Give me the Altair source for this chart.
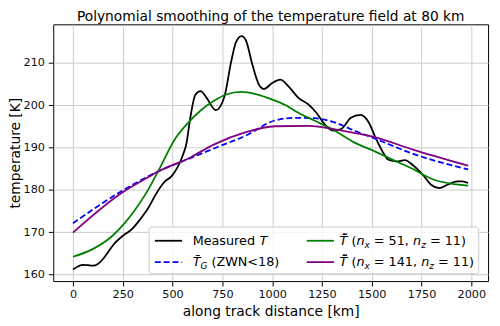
import altair as alt
import pandas as pd

# ---------------- data ----------------
km_meas = [0, 25, 50, 75, 100, 125, 150, 175, 206, 255, 296, 337, 378, 419, 460,
           493, 526, 551, 570, 589, 614, 641, 671, 717, 761, 794, 819, 847, 868,
           901, 934, 959, 1000, 1041, 1082, 1132, 1181, 1222, 1263, 1304, 1346,
           1395, 1444, 1485, 1518, 1551, 1584, 1625, 1666, 1707, 1757, 1798,
           1839, 1880, 1929, 1954, 1984]
T_meas = [161.2, 161.9, 162.3, 162.2, 162.1, 162.5, 163.6, 165.2, 167.2, 169.3,
          170.7, 173.0, 175.7, 179.2, 181.9, 183.1, 185.4, 188.1, 191.0, 197.0,
          202.4, 203.3, 201.7, 198.8, 202.1, 210.2, 214.9, 216.3, 215.3, 209.5,
          204.8, 203.8, 205.2, 206.0, 204.4, 201.7, 200.2, 198.2, 195.5, 194.0,
          194.3, 197.0, 197.7, 195.9, 192.4, 189.3, 187.1, 186.7, 187.0, 185.8,
          183.5, 181.2, 180.4, 181.2, 182.0, 182.0, 181.6]

km_g = [0, 255, 444, 592, 704, 868, 1016, 1115, 1214, 1313, 1411, 1510, 1707, 1984]
T_g = [172.1, 180.0, 184.7, 187.5, 189.7, 192.8, 196.4, 197.0, 196.9, 195.9,
       194.0, 192.2, 188.5, 184.8]

km_51 = [0, 99, 197, 255, 312, 375, 441, 507, 572, 638, 704, 770, 844, 918,
         1000, 1066, 1115, 1214, 1313, 1411, 1510, 1609, 1707, 1806, 1905, 1984]
T_51 = [164.2, 166.0, 169.1, 171.9, 175.3, 179.8, 185.6, 191.6, 195.5, 198.6,
        200.9, 202.5, 203.1, 202.6, 201.3, 200.0, 198.6, 196.3, 194.0, 191.2,
        189.2, 187.0, 184.9, 182.5, 181.4, 181.0]

km_141 = [0, 255, 375, 428, 592, 704, 868, 1016, 1181, 1346, 1510, 1707, 1984]
T_141 = [169.9, 179.6, 182.9, 184.3, 187.7, 190.6, 193.6, 195.0, 195.1, 194.0,
         192.5, 189.5, 185.7]

x_ticks = [0, 250, 500, 750, 1000, 1250, 1500, 1750, 2000]
y_ticks = [160, 170, 180, 190, 200, 210]

series_colors = ["#000000", "#0000ff", "#008000", "#800080"]
title_text = "Polynomial smoothing of the temperature field at 80 km"

# ---------------- scales / axes ----------------
W, H = 442, 261
xs = alt.Scale(domain=[-99, 2084], nice=False, zero=False)
ys = alt.Scale(domain=[158.45, 219.06], nice=False, zero=False)

xaxis = alt.Axis(values=x_ticks, title="along track distance [km]", format="d",
                 titleX=W / 2, titleY=35, titleBaseline="alphabetic", titleAlign="center")
yaxis = alt.Axis(values=y_ticks, title="temperature [K]", format="d",
                 titleX=-34, titleY=H / 2, titleAngle=270, titleBaseline="alphabetic",
                 titleAlign="center")


def line_layer(km, T, color, dash=None):
    df = pd.DataFrame({"km": km, "T": T})
    props = dict(color=color, strokeWidth=1.8, interpolate="monotone")
    if dash:
        props["strokeDash"] = dash
    return alt.Chart(df).mark_line(**props).encode(
        x=alt.X("km:Q", scale=xs, axis=xaxis),
        y=alt.Y("T:Q", scale=ys, axis=yaxis),
    )


l_meas = line_layer(km_meas, T_meas, series_colors[0])
l_g = line_layer(km_g, T_g, series_colors[1], dash=[6, 3])
l_51 = line_layer(km_51, T_51, series_colors[2])
l_141 = line_layer(km_141, T_141, series_colors[3])

# ---------------- title as a text mark ----------------
title_layer = alt.Chart(pd.DataFrame({"t": [title_text]})).mark_text(
    align="center", baseline="alphabetic", font="DejaVu Sans", fontSize=14,
    color="#000000",
).encode(x=alt.value(W / 2), y=alt.value(-3), text="t:N")

# ---------------- hand-built legend (mathtext-like labels) ----------------
box = pd.DataFrame({"x": [97.5], "x2": [432.5], "y": [206], "y2": [253.5]})
legend_box = alt.Chart(box).mark_rect(
    fill="white", fillOpacity=0.8, stroke="#cccccc", strokeWidth=1, cornerRadius=3
).encode(
    x=alt.X("x:Q", scale=None), x2="x2:Q",
    y=alt.Y("y:Q", scale=None), y2="y2:Q",
)

row_y = [220.0, 241.7]
col_line = [(103.3, 131.0), (257.7, 285.3)]
col_text = [141.7, 291.0]

leg_lines = pd.DataFrame({
    "x": [col_line[0][0], col_line[0][0], col_line[1][0], col_line[1][0]],
    "x2": [col_line[0][1], col_line[0][1], col_line[1][1], col_line[1][1]],
    "y": [row_y[0], row_y[1], row_y[0], row_y[1]],
    "c": series_colors,
    "dash": [0, 1, 0, 0],
})


def rule_layer(df, dash):
    props = dict(strokeWidth=1.8)
    if dash:
        props["strokeDash"] = [6, 3]
    return alt.Chart(df).mark_rule(**props).encode(
        x=alt.X("x:Q", scale=None), x2="x2:Q",
        y=alt.Y("y:Q", scale=None),
        color=alt.Color("c:N", scale=None),
    )


leg_solid = rule_layer(leg_lines[leg_lines.dash == 0], False)
leg_dash = rule_layer(leg_lines[leg_lines.dash == 1], True)

# DejaVu Sans advance widths (em)
adv = {" ": .318, "(": .390, ")": .390, ",": .318, "=": .838, "<": .838,
       "0": .636, "1": .636, "4": .636, "5": .636, "8": .636,
       "M": .863, "e": .615, "a": .613, "s": .521, "u": .634, "r": .411,
       "d": .635, "T": .611, "G": .776, "Z": .686, "W": .989, "N": .748,
       "n": .634, "x": .592, "z": .525}


def seg_width(s, size):
    return sum(adv.get(ch, 0.0) for ch in s) * size


FS, SUB = 13, 9.1
labels = [
    (0, 0, [("Measured ", 0, FS, 0), ("T", 1, FS, 0)]),
    (0, 1, [("T\u0304", 1, FS, 0), ("G", 1, SUB, 3), (" (ZWN<18)", 0, FS, 0)]),
    (1, 0, [("T\u0304\u0303", 1, FS, 0), (" (", 0, FS, 0), ("n", 1, FS, 0), ("x", 1, SUB, 3),
            (" = 51, ", 0, FS, 0), ("n", 1, FS, 0), ("z", 1, SUB, 3), (" = 11)", 0, FS, 0)]),
    (1, 1, [("T\u0304\u0303", 1, FS, 0), (" (", 0, FS, 0), ("n", 1, FS, 0), ("x", 1, SUB, 3),
            (" = 141, ", 0, FS, 0), ("n", 1, FS, 0), ("z", 1, SUB, 3), (" = 11)", 0, FS, 0)]),
]
rows = []
for col, row, segs in labels:
    cx = col_text[col]
    for text, ital, size, dy in segs:
        lead = len(text) - len(text.lstrip(" "))
        shown = text.strip(" ")
        rows.append({"t": shown, "x": cx + lead * adv[" "] * size,
                     "y": row_y[row] + 4.3 + dy, "s": size, "i": ital})
        cx += seg_width(text, size)
seg_df = pd.DataFrame(rows)


def text_layer(df, italic):
    props = dict(align="left", baseline="alphabetic", font="DejaVu Sans", color="#000000")
    if italic:
        props["fontStyle"] = "italic"
    return alt.Chart(df).mark_text(**props).encode(
        x=alt.X("x:Q", scale=None), y=alt.Y("y:Q", scale=None),
        text="t:N", size=alt.Size("s:Q", scale=None),
    )


leg_txt_n = text_layer(seg_df[seg_df.i == 0], False)
leg_txt_i = text_layer(seg_df[seg_df.i == 1], True)

chart = alt.layer(
    l_meas, l_g, l_51, l_141, legend_box, leg_solid, leg_dash, leg_txt_n, leg_txt_i,
    title_layer,
).properties(
    width=W, height=H,
    autosize=alt.AutoSizeParams(type="none"),
    padding={"left": 46, "top": 14, "right": 4, "bottom": 40},
).configure(
    font="DejaVu Sans",
).configure_view(
    stroke="#000000", strokeWidth=1,
).configure_axis(
    domain=False, grid=True, gridColor="#cccccc", gridWidth=1,
    ticks=True, tickColor="#000000", tickSize=5, tickWidth=1,
    labelFont="DejaVu Sans", labelFontSize=11.4, labelColor="#111111",
    titleFont="DejaVu Sans", titleFontSize=14, titleFontWeight="normal",
    titleColor="#000000", labelPadding=3,
).configure_axisY(labelPadding=4)

chart.save("out.html", embed_options={"renderer": "svg", "actions": False})
